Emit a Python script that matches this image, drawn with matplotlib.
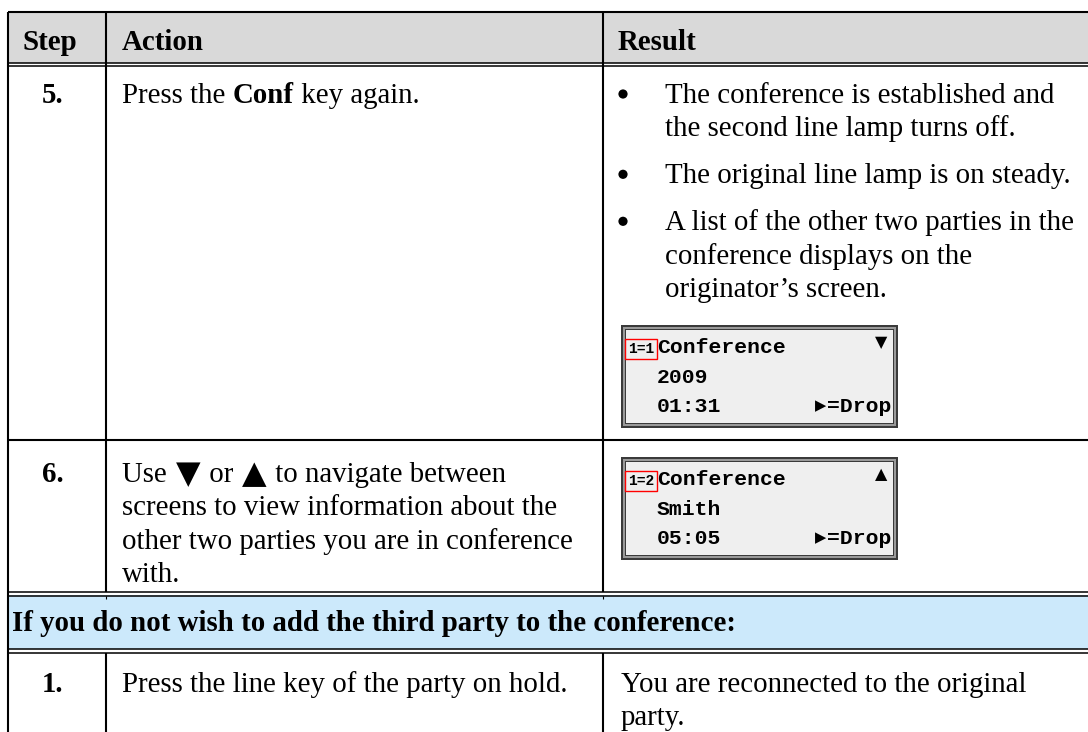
"""
Recreate the phone-manual step table (conference call steps) as a matplotlib figure.

Output: out.png (1088x732)
"""
import matplotlib
matplotlib.use('Agg')  # Non-interactive backend
import matplotlib.pyplot as plt
from matplotlib.patches import Rectangle, Circle

# ---- table content ----
headers = ['Step', 'Action', 'Result']
step_labels = ['5.', '6.', '1.']

row5_action = [('Press the ', 'normal'), ('Conf', 'bold'), (' key again.', 'normal')]
row5_bullets = [
    ['The conference is established and', 'the second line lamp turns off.'],
    ['The original line lamp is on steady.'],
    ['A list of the other two parties in the', 'conference displays on the',
     'originator\u2019s screen.'],
]

row6_action_first = ['Use ', '\u25BC', ' or ', '\u25B2', ' to navigate between']
row6_action_rest = ['screens to view information about the',
                    'other two parties you are in conference', 'with.']

# phone display screens (one entry per screen)
lcd_index = ['1=1', '1=2']
lcd_title = ['Conference', 'Conference']
lcd_line2 = ['2009', 'Smith']
lcd_line3 = ['01:31', '05:05']
lcd_arrow = ['\u25BC', '\u25B2']
lcd_softkey = '=Drop'

banner_text = 'If you do not wish to add the third party to the conference:'
row1_action = 'Press the line key of the party on hold.'
row1_result = ['You are reconnected to the original', 'party.']

# ---- layout (pixels) ----
W, H = 1088, 732
SERIF = ['Liberation Serif', 'DejaVu Serif']
MONO = ['Liberation Mono', 'DejaVu Sans Mono']
SYM = ['DejaVu Sans']
BODY = 20.8
LINE = 33.3
PARA = 47

X_LEFT, X_COL1, X_COL2 = 8, 106, 603
X_STEP, X_ACTION, X_RESULT = 53, 122, 621
X_BULLET, X_BTEXT = 623, 665

fig = plt.figure(figsize=(W / 100, H / 100), dpi=100)
ax = fig.add_axes([0, 0, 1, 1])
ax.set_xlim(0, W)
ax.set_ylim(H, 0)
ax.axis('off')
renderer = fig.canvas.get_renderer()


def measure(txt, **props):
    # width including trailing spaces: measure with a guard char
    t1 = ax.text(0, 0, txt + '|', **props)
    t2 = ax.text(0, 0, '|', **props)
    w = t1.get_window_extent(renderer).width - t2.get_window_extent(renderer).width
    t1.remove()
    t2.remove()
    return w


def serif(x, y, txt, weight='normal', size=BODY, **kw):
    return ax.text(x, y, txt, fontsize=size, fontweight=weight, family=SERIF,
                   va='baseline', color='black', **kw)


# ---- fills ----
ax.add_patch(Rectangle((X_LEFT, 12), W - X_LEFT, 51, facecolor='#d9d9d9', edgecolor='none'))
ax.add_patch(Rectangle((X_LEFT, 595), W - X_LEFT, 54, facecolor='#cce9fb', edgecolor='none'))

# ---- grid lines ----
LW = 1.5
ax.hlines([12, 440], X_LEFT, W, color='black', lw=LW)
for y in (63, 66, 592, 595.5, 649, 652.5):
    ax.hlines(y, X_LEFT, W, color='black', lw=1.1)
ax.vlines(X_LEFT, 12, H, color='black', lw=LW)
for x in (X_COL1, X_COL2):
    ax.vlines(x, 12, 592, color='black', lw=LW)
    ax.vlines(x, 652.5, H, color='black', lw=LW)
    ax.vlines(x, 595.5, 599, color='black', lw=0.8)

# ---- header ----
hdr_y = 50
serif(23, hdr_y, headers[0], 'bold')
serif(X_ACTION, hdr_y, headers[1], 'bold')
serif(X_RESULT - 3, hdr_y, headers[2], 'bold')

# ---- row 5 ----
y0 = 103
serif(X_STEP, y0, step_labels[0], 'bold', ha='center')
x = X_ACTION
for txt, wt in row5_action:
    serif(x, y0, txt, wt)
    x += measure(txt, fontsize=BODY, fontweight=wt, family=SERIF)

y = y0
for para in row5_bullets:
    ax.add_patch(Circle((X_BULLET, y - 9), 4.6, facecolor='black', edgecolor='none'))
    for line in para:
        serif(X_BTEXT, y, line)
        y += LINE
    y += PARA - LINE

# ---- row 6 ----
y6 = 482
serif(X_STEP, y6, step_labels[1], 'bold', ha='center')
x = X_ACTION
for txt in row6_action_first:
    if txt in ('\u25BC', '\u25B2'):
        ax.text(x + 2, y6 + 1, txt, fontsize=23, family=SYM, va='baseline')
        x += measure(txt, fontsize=23, family=SYM) + 3
    else:
        serif(x, y6, txt)
        x += measure(txt, fontsize=BODY, family=SERIF)
for i, line in enumerate(row6_action_rest):
    serif(X_ACTION, y6 + LINE * (i + 1), line)

# ---- phone display screens ----
lcd_tops = [325, 457]
LCD_X0, LCD_X1, LCD_H = 621, 898, 103
for i, top in enumerate(lcd_tops):
    for inset, col in ((0, '#3a3a3a'), (2, '#9a9a9a'), (4, '#3a3a3a'), (5, '#efefef')):
        ax.add_patch(Rectangle((LCD_X0 + inset, top + inset), LCD_X1 - LCD_X0 - 2 * inset,
                               LCD_H - 2 * inset, facecolor=col, edgecolor='none'))
    ax.text(628, top + 28, lcd_index[i], fontsize=10.5, fontweight='bold', family=MONO,
            va='baseline',
            bbox=dict(boxstyle='square,pad=0.18', facecolor='none', edgecolor='red', lw=1))
    ax.text(657, top + 28, lcd_title[i], fontsize=15.4, fontweight='bold', family=MONO,
            va='baseline')
    ax.text(657, top + 58, lcd_line2[i], fontsize=15.4, fontweight='bold', family=MONO,
            va='baseline')
    ax.text(657, top + 87, lcd_line3[i], fontsize=15.4, fontweight='bold', family=MONO,
            va='baseline')
    ax.text(881, top + 18, lcd_arrow[i], fontsize=11.5, family=SYM, ha='center', va='center')
    ax.text(891, top + 87, lcd_softkey, fontsize=15.4, fontweight='bold', family=MONO,
            va='baseline', ha='right')
    ax.text(826, top + 81, '\u25B6', fontsize=10.5, family=SYM, ha='right', va='center')

# ---- banner row ----
serif(12, 631, banner_text, 'bold')

# ---- row 1 ----
y1 = 692
serif(X_STEP, y1, step_labels[2], 'bold', ha='center')
serif(X_ACTION, y1, row1_action)
for i, line in enumerate(row1_result):
    serif(X_RESULT, y1 + LINE * i, line)

fig.savefig('out.png', dpi=100)
